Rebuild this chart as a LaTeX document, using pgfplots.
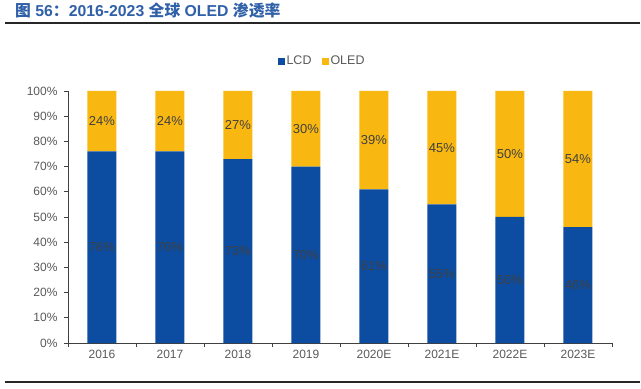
\documentclass[border=0pt]{standalone}
\usepackage{pgfplots}
\pgfplotsset{compat=1.18}
\usepackage{fontspec}
\setmainfont{Liberation Sans}
\newfontfamily\cjk{Noto Sans CJK SC}
\definecolor{lcd}{HTML}{0C4DA2}
\definecolor{oled}{HTML}{F9B811}
\definecolor{ttl}{HTML}{3060A8}
\definecolor{tickgray}{HTML}{595959}
\definecolor{lblgray}{HTML}{404040}
\begin{document}
\begin{tikzpicture}
\path (-68bp,-46bp) rectangle (573bp,343bp);
\draw[line width=1.4bp, black!85] (-63bp,320bp) -- (572bp,320bp);
\draw[line width=1.4bp, black!85] (-63bp,-39bp) -- (572bp,-39bp);
\node[anchor=base west, inner sep=0pt, text=ttl, font=\fontsize{15.8bp}{18bp}\selectfont\bfseries] at (-53bp,326bp)
  {{\cjk 图} 56{\cjk ：}2016-2023 {\cjk 全球} OLED {\cjk 渗透率}};
\begin{axis}[
  at={(0,0)}, anchor=south west, scale only axis,
  width=544bp, height=252bp,
  xmin=-0.5, xmax=7.5, ymin=0, ymax=100,
  ybar stacked, bar width=29bp,
  axis x line*=bottom, axis y line*=left,
  axis line style={black!75, line width=0.8bp},
  tick style={black!75, line width=0.8bp},
  tick align=outside, major tick length=4bp,
  xtick={-0.5,0.5,...,7.5}, xticklabels={},
  extra x ticks={0,1,2,3,4,5,6,7},
  extra x tick labels={2016,2017,2018,2019,2020E,2021E,2022E,2023E},
  extra x tick style={major tick length=0pt, tick label style={yshift=-4bp}},
  ytick={0,10,...,100},
  yticklabel={\pgfmathprintnumber{\tick}\%},
  /pgf/number format/assume math mode=true,
  tick label style={text=tickgray, font=\fontsize{12bp}{14bp}\selectfont},
  yticklabel style={xshift=-3bp},
  legend style={at={(0.467,1.119)}, anchor=center, draw=none, fill=none,
    legend columns=2, font=\fontsize{12.5bp}{14bp}\selectfont, text=tickgray,
    /tikz/every even column/.append style={column sep=8bp}},
  legend image code/.code={\fill[#1] (0bp,-3.5bp) rectangle (7bp,3.5bp);},
]
\addplot[fill=lcd, draw=none] coordinates {(0,76) (1,76) (2,73) (3,70) (4,61) (5,55) (6,50) (7,46)};
\addlegendentry{LCD}
\addplot[fill=oled, draw=none] coordinates {(0,24) (1,24) (2,27) (3,30) (4,39) (5,45) (6,50) (7,54)};
\addlegendentry{OLED}
\end{axis}
\begin{axis}[
  at={(0,0)}, anchor=south west, scale only axis,
  width=544bp, height=252bp,
  xmin=-0.5, xmax=7.5, ymin=0, ymax=100,
  hide axis, clip=false,
]
\addplot[only marks, mark=*, mark size=0pt, mark options={draw=none, fill=none},
  nodes near coords, point meta=explicit symbolic,
  every node near coord/.append style={anchor=center, inner sep=0pt, text=lblgray, font=\fontsize{13bp}{15bp}\selectfont}]
  coordinates {(0,38) [76\%] (1,38) [76\%] (2,36.5) [73\%] (3,35) [70\%]
    (4,30.5) [61\%] (5,27.5) [55\%] (6,25) [50\%] (7,23) [46\%]
    (0,88) [24\%] (1,88) [24\%] (2,86.5) [27\%] (3,85) [30\%]
    (4,80.5) [39\%] (5,77.5) [45\%] (6,75) [50\%] (7,73) [54\%]};
\end{axis}
\end{tikzpicture}
\end{document}
